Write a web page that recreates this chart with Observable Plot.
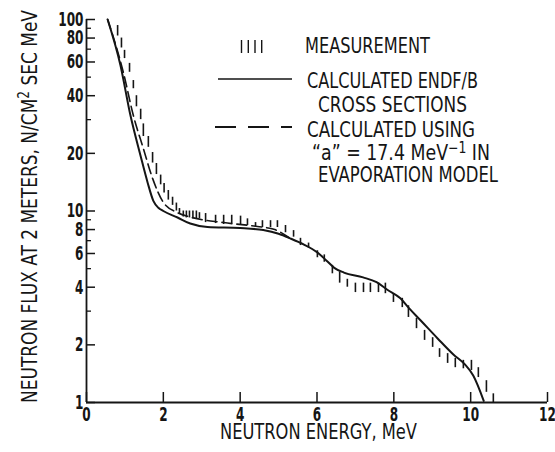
<!DOCTYPE html>
<html>
<head>
<meta charset="utf-8">
<script src="https://cdn.jsdelivr.net/npm/d3@7"></script>
<script src="https://cdn.jsdelivr.net/npm/@observablehq/plot@0.6"></script>
<style>
  html, body { margin: 0; padding: 0; background: white; }
  #wrap { position: relative; width: 555px; height: 452px; }
  #wrap svg { display: block; }
  #overlay { position: absolute; left: 0; top: 0; pointer-events: none; }
</style>
</head>
<body>
<div id="wrap"></div>
<script>
// ---- Data ----
// Measurement: energy (MeV), lower and upper flux of each error bar
const measE  = [0.81,0.91,0.99,1.12,1.22,1.30,1.41,1.48,1.61,1.72,1.82,1.93,2.02,2.13,2.24,2.34,2.42,2.52,2.60,2.68,2.77,2.86,2.94,3.10,3.36,3.57,3.78,4.01,4.19,4.40,4.58,4.79,4.97,5.18,5.39,5.57,5.78,6.01,6.19,6.40,6.59,6.79,7.00,7.21,7.39,7.60,7.78,7.99,8.22,8.38,8.59,8.80,9.01,9.19,9.40,9.60,9.81,10.02,10.20,10.41,10.59];
const measLo = [82,71,62.5,53,43.5,35,30,24.5,21.5,17.8,15.5,13.7,12.4,11.4,10.7,10.0,9.6,9.3,9.2,9.2,9.1,9.1,9.1,8.7,8.6,8.5,8.6,8.5,8.4,8.2,8.2,8.2,8.2,7.7,7.3,6.6,6.4,5.7,5.4,4.7,4.2,4.0,3.75,3.75,3.75,3.75,3.7,3.33,3.13,2.78,2.43,2.11,1.94,1.72,1.60,1.52,1.50,1.47,1.35,1.13,1.0];
const measHi = [93,80,69,59,48,40,34,28.5,24.5,20.2,17.7,15.4,13.9,12.8,11.8,11.0,10.3,10.0,10.0,10.0,10.0,10.0,9.8,9.7,9.5,9.5,9.5,9.4,9.1,8.7,8.9,8.9,8.9,8.4,7.9,7.2,6.8,6.2,5.9,5.2,4.8,4.4,4.2,4.2,4.2,4.2,4.2,3.7,3.5,3.2,2.75,2.38,2.18,1.91,1.80,1.70,1.66,1.66,1.52,1.30,1.11];

// Calculated, ENDF/B cross sections (solid)
const endfE    = [0.55,0.885,1.145,1.405,1.59,1.74,1.87,2.0,2.37,2.7,3.15,4.0,4.6,5.0,5.3,5.65,6.0,6.25,6.45,6.7,7.2,7.55,7.83,8.17,8.4,8.7,9.14,9.55,9.85,10.07,10.34];
const endfFlux = [100,57.5,31.5,19.5,14.1,11.3,10.4,10.0,9.25,8.6,8.25,8.15,7.95,7.6,7.2,6.7,6.1,5.5,5.05,4.77,4.5,4.25,3.88,3.5,3.1,2.68,2.16,1.78,1.58,1.38,1.02];

// Calculated using "a" = 17.4 MeV^-1 in evaporation model (dashed)
const evapE    = [0.55,0.96,1.22,1.48,1.72,2.0,2.37,2.7,3.57,4.45,4.9,5.3];
const evapFlux = [100,52.9,31.5,21.2,14.8,11.1,9.8,9.3,8.7,8.3,8.0,7.2];

const yTicks      = [1,2,4,6,8,10,20,40,60,80,100];
const yMinorTicks = [3,5,7,9,30,50,70,90];
const xTicks      = [0,2,4,6,8,10,12];

const xTitle = "NEUTRON ENERGY, MeV";
const yTitleA = "NEUTRON FLUX AT 2 METERS, N/CM";
const yTitleSup = "2";
const yTitleB = " SEC MeV";

// ---- Tables for the library ----
const meas = measE.map((e, i) => ({E: e, lo: measLo[i], hi: measHi[i]}));
const endf = endfE.map((e, i) => ({E: e, flux: endfFlux[i]}));
const evap = evapE.map((e, i) => ({E: e, flux: evapFlux[i]}));

const FONT = "'DejaVu Sans Condensed', 'Liberation Sans Narrow', 'Liberation Sans', sans-serif";
const INK = "#151515";

const chart = Plot.plot({
  width: 555,
  height: 452,
  marginLeft: 86,
  marginRight: 8,
  marginTop: 19,
  marginBottom: 50,
  style: {fontFamily: FONT, fontSize: "20px", fontWeight: "bold", color: INK, background: "white"},
  x: {domain: [0, 12]},
  y: {type: "log", domain: [1, 100]},
  marks: [
    Plot.axisY({ticks: yMinorTicks, tickSize: -5, tickFormat: () => "", label: null, strokeWidth: 1.3}),
    Plot.axisY({ticks: yTicks, tickSize: -9, tickFormat: () => "", label: null, strokeWidth: 1.5}),
    Plot.axisX({ticks: xTicks, tickSize: -10, tickFormat: () => "", label: null, strokeWidth: 1.5}),
    Plot.textY(yTicks, {y: d => d, text: d => String(d), frameAnchor: "left", textAnchor: "end", dx: -3, fill: INK, className: "ytl"}),
    Plot.textX(xTicks, {x: d => d, text: d => String(d), frameAnchor: "bottom", lineAnchor: "top", dy: 4, fill: INK, className: "xtl"}),
    Plot.ruleX([0], {stroke: INK, strokeWidth: 1.8}),
    Plot.ruleY([1], {stroke: INK, strokeWidth: 1.8}),
    Plot.ruleX(meas, {x: "E", y1: "lo", y2: "hi", stroke: INK, strokeWidth: 1.6}),
    Plot.line(evap, {x: "E", y: "flux", stroke: INK, strokeWidth: 1.6, strokeDasharray: "10,5", curve: "monotone-x"}),
    Plot.line(endf, {x: "E", y: "flux", stroke: INK, strokeWidth: 2, curve: "monotone-x"})
  ]
});

const wrap = document.getElementById("wrap");
wrap.appendChild(chart);

// condensed look of the tick numerals
d3.select(chart).selectAll(".ytl text, .xtl text").each(function () {
  const n = this.textContent.length;
  d3.select(this).attr("textLength", n * 8.4).attr("lengthAdjust", "spacingAndGlyphs");
});

// ---- Overlay: axis titles and legend ----
const ov = d3.select(wrap).append("svg")
  .attr("id", "overlay")
  .attr("width", 555).attr("height", 452)
  .style("font-family", FONT)
  .style("fill", INK);

function fitText(sel, len) {
  return sel.attr("textLength", len).attr("lengthAdjust", "spacingAndGlyphs");
}

// x title
fitText(ov.append("text")
  .attr("x", 220).attr("y", 439)
  .style("font-size", "21px")
  .text(xTitle), 197);

// y title
const yt = ov.append("text")
  .attr("transform", "translate(37,403) rotate(-90)")
  .style("font-size", "21px");
yt.append("tspan").text(yTitleA);
yt.append("tspan").attr("dy", -8).style("font-size", "15px").text(yTitleSup);
yt.append("tspan").attr("dy", 8).text(yTitleB);
fitText(yt, 393);

// legend
const leg = ov.append("g");
[241.5, 248.3, 255, 261.7].forEach(x => {
  leg.append("line").attr("x1", x).attr("x2", x).attr("y1", 40).attr("y2", 53)
    .attr("stroke", INK).attr("stroke-width", 1.4);
});
leg.append("line").attr("x1", 218).attr("x2", 292).attr("y1", 79).attr("y2", 79)
  .attr("stroke", INK).attr("stroke-width", 1.6);
leg.append("line").attr("x1", 215).attr("x2", 292).attr("y1", 127).attr("y2", 127)
  .attr("stroke", INK).attr("stroke-width", 1.8).attr("stroke-dasharray", "21,12");

const legText = [
  {x: 305, y: 53, w: 125, t: "MEASUREMENT"},
  {x: 307, y: 88, w: 171, t: "CALCULATED ENDF/B"},
  {x: 318, y: 112, w: 149, t: "CROSS SECTIONS"},
  {x: 307, y: 137, w: 168, t: "CALCULATED USING"},
  {x: 318, y: 182, w: 180, t: "EVAPORATION MODEL"}
];
legText.forEach(d => {
  fitText(leg.append("text").attr("x", d.x).attr("y", d.y).style("font-size", "21px").text(d.t), d.w);
});
const aText = leg.append("text").attr("x", 312).attr("y", 160).style("font-size", "21px");
aText.append("tspan").text("\u201Ca\u201D = 17.4 MeV");
aText.append("tspan").attr("dy", -7).style("font-size", "15px").text("\u22121");
aText.append("tspan").attr("dy", 7).text(" IN");
fitText(aText, 178);
</script>
</body>
</html>
